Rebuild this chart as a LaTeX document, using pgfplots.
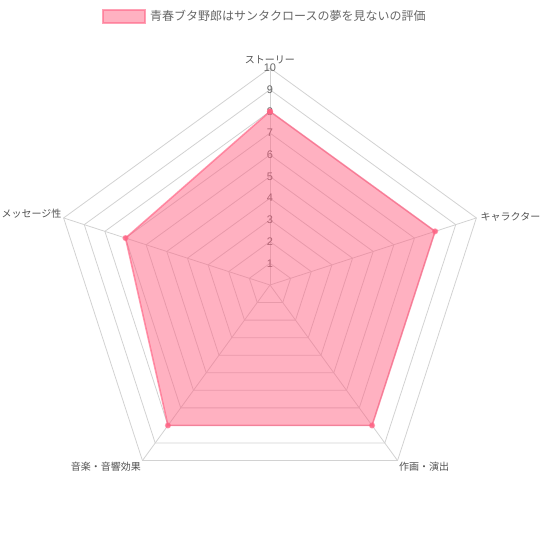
\documentclass[border=0pt]{standalone}
\usepackage{fontspec}
\setmainfont{Liberation Sans}
\newfontfamily\jp{Noto Sans CJK JP}
\usepackage{pgfplots}
\pgfplotsset{compat=1.18}
\usepgfplotslibrary{polar}
\definecolor{pinkline}{HTML}{FF6384}
\definecolor{gridc}{HTML}{D2D2D2}
\definecolor{txt}{HTML}{666666}
\begin{document}
\begin{tikzpicture}[x=1bp,y=1bp]
\path[use as bounding box] (-270bp,-255bp) rectangle (270bp,285bp);
\begin{polaraxis}[at={(0,0)}, anchor=origin, scale only axis, width=434bp, height=434bp,
  ymin=0, ymax=10, hide axis, clip=false]
\pgfplotsinvokeforeach{1,...,10}{
  \addplot[gridc, line width=0.8bp, mark=none] coordinates {(90,#1) (18,#1) (-54,#1) (-126,#1) (162,#1) (90,#1)};
}
\addplot[gridc, line width=0.8bp, mark=none] coordinates {(90,0) (90,10)};
\addplot[gridc, line width=0.8bp, mark=none] coordinates {(18,0) (18,10)};
\addplot[gridc, line width=0.8bp, mark=none] coordinates {(-54,0) (-54,10)};
\addplot[gridc, line width=0.8bp, mark=none] coordinates {(-126,0) (-126,10)};
\addplot[gridc, line width=0.8bp, mark=none] coordinates {(162,0) (162,10)};
\pgfplotsinvokeforeach{1,...,10}{
  \node[txt, font=\fontsize{11bp}{13bp}\selectfont, inner sep=0pt] at (axis cs:90,#1) {#1};
}
\addplot[draw=pinkline, draw opacity=0.65, line width=1.6bp, fill=pinkline, fill opacity=0.5,
  mark=*, mark size=2.2bp, mark options={fill=pinkline, draw=pinkline, fill opacity=0.8}]
  coordinates {(90,8) (18,8) (-54,8) (-126,8) (162,7) (90,8)};
\node[txt!80!black, font=\jp\fontsize{10bp}{12bp}\selectfont, anchor=south, inner sep=0pt] at (axis cs:90,10.2) {ストーリー};
\node[txt!80!black, font=\jp\fontsize{10bp}{12bp}\selectfont, anchor=west, inner sep=0pt] at (axis cs:18,10.2) {キャラクター};
\node[txt!80!black, font=\jp\fontsize{10bp}{12bp}\selectfont, anchor=north west, inner sep=0pt] at (axis cs:-54,10.1) {作画・演出};
\node[txt!80!black, font=\jp\fontsize{10bp}{12bp}\selectfont, anchor=north east, inner sep=0pt] at (axis cs:-126,10.1) {音楽・音響効果};
\node[txt!80!black, font=\jp\fontsize{10bp}{12bp}\selectfont, anchor=east, inner sep=0pt, yshift=4bp] at (axis cs:162,10.1) {メッセージ性};
\end{polaraxis}
\fill[pinkline, fill opacity=0.5] (-167bp,262bp) rectangle (-125bp,275bp);
\draw[pinkline, draw opacity=0.6, line width=1.5bp] (-167bp,262bp) rectangle (-125bp,275bp);
\node[txt, font=\jp\fontsize{12bp}{14bp}\selectfont, anchor=west, inner sep=0pt] at (-120bp,269bp) {青春ブタ野郎はサンタクロースの夢を見ないの評価};
\end{tikzpicture}
\end{document}
